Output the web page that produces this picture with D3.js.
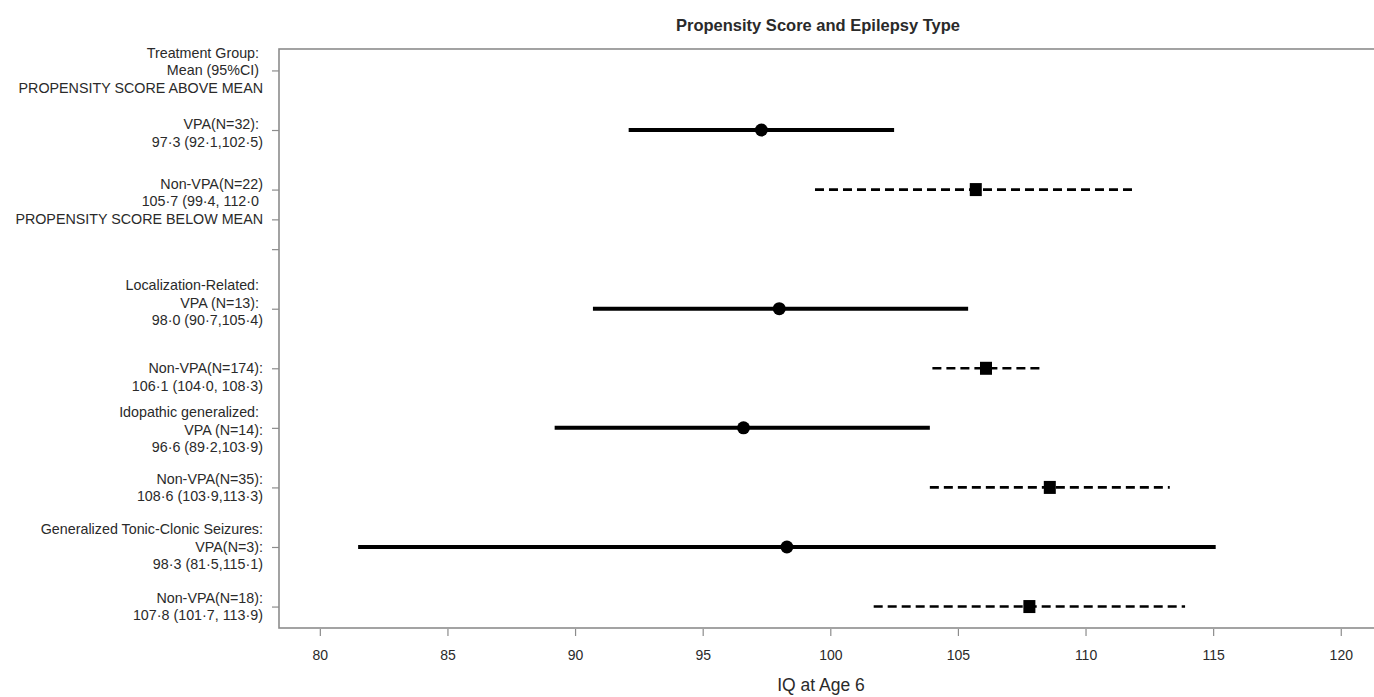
<!DOCTYPE html>
<html><head><meta charset="utf-8">
<script src="https://cdn.jsdelivr.net/npm/d3@7"></script>
<style>
html,body{margin:0;padding:0;background:#fff;}
svg{display:block;font-family:"Liberation Sans",Arial,sans-serif;}
text{white-space:pre;}
</style></head>
<body><svg id="chart" width="1374" height="697"></svg>
<script>
// ---- data ----
const rowY      = [10, 9, 7, 6, 5, 4, 3, 2];
const treatment = ["VPA","Non-VPA","VPA","Non-VPA","VPA","Non-VPA","VPA","Non-VPA"];
const means     = [97.3, 105.7, 98.0, 106.1, 96.6, 108.6, 98.3, 107.8];
const lower     = [92.1, 99.4, 90.7, 104.0, 89.2, 103.9, 81.5, 101.7];
const upper     = [102.5, 112.0, 105.4, 108.3, 103.9, 113.3, 115.1, 113.9];
const yTicks    = [11, 10, 9, 8.5, 8, 7, 6, 5, 4, 3, 2];
const yLabels   = [
  ["Treatment Group: ", "Mean (95%CI) ", "PROPENSITY SCORE ABOVE MEAN"],
  ["VPA(N=32): ", "97·3 (92·1,102·5)"],
  ["Non-VPA(N=22)", "105·7 (99·4, 112·0 "],
  ["PROPENSITY SCORE BELOW MEAN"],
  [""],
  ["Localization-Related: ", "VPA (N=13): ", "98·0 (90·7,105·4)"],
  ["Non-VPA(N=174):", "106·1 (104·0, 108·3)"],
  ["Idopathic generalized: ", "VPA (N=14):", "96·6 (89·2,103·9)"],
  ["Non-VPA(N=35):", "108·6 (103·9,113·3)"],
  ["Generalized Tonic-Clonic Seizures:", "VPA(N=3):", "98·3 (81·5,115·1)"],
  ["Non-VPA(N=18):", "107·8 (101·7, 113·9)"]
];
const labelAt   = [11, 9.95, 8.95, 8.5, 8, 7.1, 5.85, 4.97, 4.0, 3.0, 2.0];
const xTicks    = [80, 85, 90, 95, 100, 105, 110, 115, 120];
const xlim = [80, 120], ylim = [2, 11];
const title = "Propensity Score and Epilepsy Type";
const xTitle = "IQ at Age 6";

// ---- layout ----
const svg = d3.select("#chart");
const L = 279, R = 1381.6, T = 49, B = 628;
const padX = (xlim[1]-xlim[0])*0.04, padY = (ylim[1]-ylim[0])*0.04;
const x = d3.scaleLinear().domain([xlim[0]-padX, xlim[1]+padX]).range([L, R]);
const y = d3.scaleLinear().domain([ylim[0]-padY, ylim[1]+padY]).range([B, T]);
const axisCol = "#8c8c8c", textCol = "#2a2a2a";
const fs = 14.3;

// box
svg.append("rect").attr("x", L).attr("y", T).attr("width", R-L).attr("height", B-T)
  .attr("fill","none").attr("stroke", axisCol).attr("stroke-width", 1.6);

// x axis
const xa = svg.append("g").attr("transform", `translate(0,${B})`)
  .call(d3.axisBottom(x).tickValues(xTicks).tickSize(8).tickPadding(14).tickFormat(d3.format("d")));
xa.select(".domain").remove();
xa.selectAll("line").attr("stroke", axisCol).attr("stroke-width",1.2).attr("y1",1);
xa.selectAll("text").attr("font-size", 14).attr("fill", textCol).attr("font-family","Liberation Sans, Arial, sans-serif");

// y axis ticks
const ya = svg.append("g").attr("transform", `translate(${L},0)`)
  .call(d3.axisLeft(y).tickValues(yTicks).tickSize(7).tickFormat(""));
ya.select(".domain").remove();
ya.selectAll("line").attr("stroke", axisCol).attr("stroke-width",1.2);

// y labels
const lh = 17.5;
const lab = svg.append("g").attr("font-size", fs).attr("fill", textCol).attr("text-anchor","end");
yLabels.forEach((lines, i) => {
  const cy = y(labelAt[i]);
  const n = lines.length;
  lines.forEach((s, j) => {
    lab.append("text").attr("x", 263)
      .attr("y", cy + (j - (n-1)/2)*lh).attr("dy","0.35em").text(s);
  });
});

// intervals
const g = svg.append("g");
means.forEach((m, i) => {
  const vpa = treatment[i] === "VPA";
  const yy = y(rowY[i]);
  g.append("line").attr("x1", x(lower[i])).attr("x2", x(upper[i]))
    .attr("y1", yy).attr("y2", yy).attr("stroke","#000")
    .attr("stroke-width", vpa ? 4 : 2.6)
    .attr("stroke-dasharray", vpa ? null : "9,5");
  if (vpa) {
    g.append("circle").attr("cx", x(m)).attr("cy", yy).attr("r", 6.5).attr("fill","#000");
  } else {
    g.append("rect").attr("x", x(m)-6).attr("y", yy-6.5).attr("width",12).attr("height",13).attr("fill","#000");
  }
});

// title
svg.append("text").attr("x", 818).attr("y", 25).attr("dy","0.35em")
  .attr("text-anchor","middle").attr("font-weight","bold").attr("font-size", 16.5)
  .attr("fill", textCol).text(title);
svg.append("text").attr("x", 821).attr("y", 685).attr("dy","0.35em")
  .attr("text-anchor","middle").attr("font-size", 17.5)
  .attr("fill", textCol).text(xTitle);
</script></body></html>
